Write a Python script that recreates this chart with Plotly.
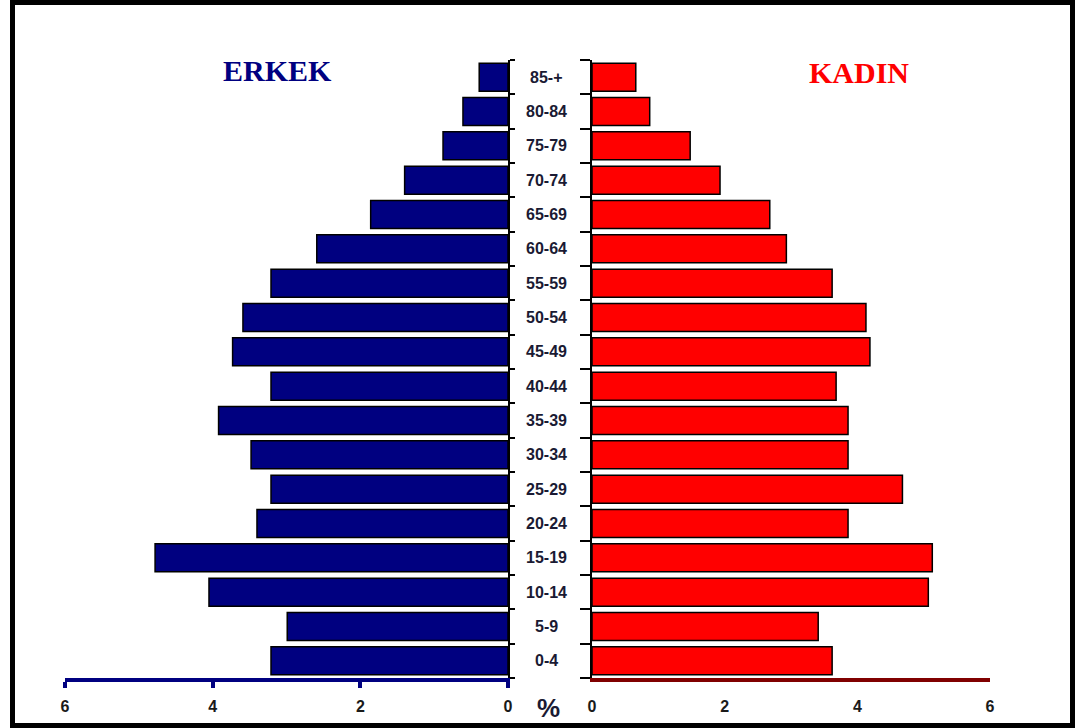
import plotly.graph_objects as go

age_groups = ["0-4", "5-9", "10-14", "15-19", "20-24", "25-29", "30-34", "35-39",
              "40-44", "45-49", "50-54", "55-59", "60-64", "65-69", "70-74",
              "75-79", "80-84", "85-+"]
erkek = [3.21, 2.99, 4.05, 4.78, 3.40, 3.21, 3.48, 3.92,
         3.21, 3.73, 3.59, 3.21, 2.59, 1.86, 1.40, 0.88, 0.61, 0.39]
kadin = [3.62, 3.41, 5.07, 5.13, 3.86, 4.68, 3.86, 3.86,
         3.68, 4.19, 4.13, 3.62, 2.93, 2.68, 1.93, 1.48, 0.87, 0.66]
tick_vals = [0, 2, 4, 6]
tick_text = ["0", "2", "4", "6"]

NAVY = "#000080"
RED = "#ff0000"
DARKRED = "#800000"

W, H = 1075, 728
ML, MR, MT, MB = 65, 85, 60, 50
pw = W - ML - MR
ph = H - MT - MB


def px_x(p):
    return (p - ML) / pw


def px_y(p):
    return (H - MB - p) / ph


left_dom = [0, px_x(508)]
right_dom = [px_x(592), 1]

fig = go.Figure()
fig.add_trace(go.Bar(
    y=age_groups, x=erkek, orientation="h", xaxis="x", yaxis="y",
    marker=dict(color=NAVY, line=dict(color="black", width=1.5)),
    showlegend=False, hoverinfo="x+y"))
fig.add_trace(go.Bar(
    y=age_groups, x=kadin, orientation="h", xaxis="x2", yaxis="y2",
    marker=dict(color=RED, line=dict(color="black", width=1.5)),
    showlegend=False, hoverinfo="x+y"))

tickfont = dict(family="Liberation Sans, Arial", size=16, color="#1a1a1a", weight="bold")

common_x = dict(showgrid=False, zeroline=False, automargin=False, fixedrange=True)
common_y = dict(type="category", categoryorder="array", categoryarray=age_groups,
                range=[-0.5, 17.5], showgrid=False, zeroline=False, automargin=False,
                showline=True, linecolor="black", linewidth=2, showticklabels=False,
                ticks="outside", tickson="boundaries", tickwidth=1.5, tickcolor="black",
                fixedrange=True)

fig.update_layout(
    width=W, height=H, autosize=False,
    margin=dict(l=ML, r=MR, t=MT, b=MB),
    paper_bgcolor="white", plot_bgcolor="white",
    bargap=0.185,
    xaxis=dict(domain=left_dom, range=[6, 0], tickvals=tick_vals, ticktext=tick_text,
               showline=True, linecolor=NAVY, linewidth=4,
               ticks="outside", ticklen=6, tickwidth=4, tickcolor=NAVY,
               tickfont=tickfont, ticklabelstandoff=5, anchor="y", **common_x),
    xaxis3=dict(domain=left_dom, range=[6, 0], tickvals=tick_vals, overlaying="x",
                showline=False, showticklabels=False,
                ticks="inside", ticklen=6, tickwidth=4, tickcolor=NAVY, anchor="y", **common_x),
    xaxis2=dict(domain=right_dom, range=[0, 6], tickvals=tick_vals, ticktext=tick_text,
                showline=True, linecolor=DARKRED, linewidth=4,
                ticks="", tickfont=tickfont, ticklabelstandoff=11, anchor="y2", **common_x),
    xaxis4=dict(domain=right_dom, range=[0, 6], tickvals=[0, 6], overlaying="x2",
                showline=False, showticklabels=False,
                ticks="outside", ticklen=7, tickwidth=4, tickcolor=DARKRED, anchor="y2",
                **common_x),
    xaxis5=dict(domain=right_dom, range=[0, 6], tickvals=[0, 6], overlaying="x2",
                showline=False, showticklabels=False,
                ticks="inside", ticklen=7, tickwidth=4, tickcolor=DARKRED, anchor="y2",
                **common_x),
    yaxis=dict(anchor="x", side="right", ticklen=5, **common_y),
    yaxis2=dict(anchor="x2", side="left", matches="y", ticklen=10, **common_y),
)

# Age-group labels in the centre gap
for g in age_groups:
    fig.add_annotation(x=px_x(546), xref="paper", y=g, yref="y", text=g,
                       showarrow=False, xanchor="center", yanchor="middle",
                       font=dict(family="Liberation Sans, Arial", size=16,
                                 color="#1a1a33", weight="bold"))

fig.add_annotation(x=px_x(277), y=px_y(71), xref="paper", yref="paper", text="ERKEK",
                   showarrow=False, xanchor="center", yanchor="middle",
                   font=dict(family="Liberation Serif, Times New Roman, serif", size=30,
                             color=NAVY, weight="bold"))
fig.add_annotation(x=px_x(859), y=px_y(72), xref="paper", yref="paper", text="KADIN",
                   showarrow=False, xanchor="center", yanchor="middle",
                   font=dict(family="Liberation Serif, Times New Roman, serif", size=30,
                             color=RED, weight="bold"))
fig.add_annotation(x=px_x(548), y=px_y(708), xref="paper", yref="paper", text="%",
                   showarrow=False, xanchor="center", yanchor="middle",
                   font=dict(family="Liberation Sans, Arial", size=26, color="#1a1a33",
                             weight="bold"))

# Outer frame
fig.add_shape(type="rect", xref="paper", yref="paper",
              x0=px_x(12.5), x1=px_x(1072.5), y0=px_y(725.5), y1=px_y(2.5),
              line=dict(color="black", width=5), layer="above")

fig.write_html("out.html",
               config={"responsive": False, "displayModeBar": False},
               post_script="document.body.style.margin='0';document.body.style.overflow='hidden';")
